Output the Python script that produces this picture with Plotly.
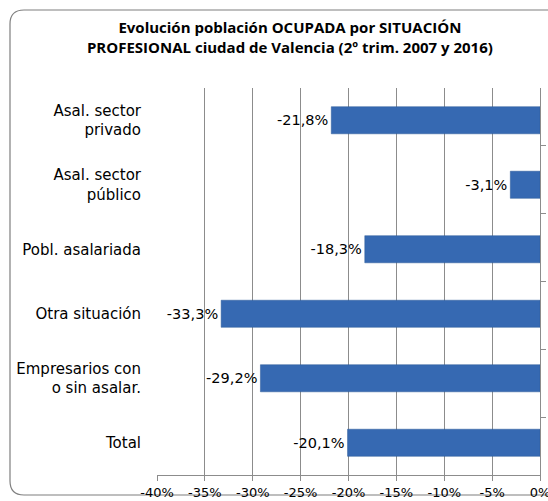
import plotly.graph_objects as go

# Datos (variación % 2º trim. 2007 -> 2016)
categorias = [
    "Asal. sector<br>privado",
    "Asal. sector<br>público",
    "Pobl. asalariada",
    "Otra situación",
    "Empresarios con<br>o sin asalar.",
    "Total",
]
variacion = [-21.8, -3.1, -18.3, -33.3, -29.2, -20.1]
etiquetas = ["-21,8%", "-3,1%", "-18,3%", "-33,3%", "-29,2%", "-20,1%"]
ticks_x = [-40, -35, -30, -25, -20, -15, -10, -5, 0]
ticks_txt = ["-40%", "-35%", "-30%", "-25%", "-20%", "-15%", "-10%", "-5%", "0%"]

AZUL = "#3669b2"
GRIS = "#8c8c8c"
FUENTE = "'DejaVu Sans', sans-serif"

W, H = 548, 501
L, R, T, B = 157, 540, 88, 475

fig = go.Figure()

fig.add_trace(go.Bar(
    x=variacion, y=categorias,
    orientation="h",
    marker=dict(color=AZUL, line=dict(color="#2c5a98", width=0.5)),
    text=etiquetas,
    textposition="outside",
    cliponaxis=False,
    textfont=dict(size=14.5, color="#000000", family=FUENTE),
    hoverinfo="skip",
))

# traza invisible para el eje derecho (marcas en x=0)
fig.add_trace(go.Scatter(
    x=[0] * len(categorias), y=categorias, yaxis="y2",
    mode="markers", marker=dict(opacity=0), hoverinfo="skip", showlegend=False,
))

# marco redondeado del gráfico (coordenadas de papel)
def px(xp):
    return (xp - L) / (R - L)
def py(yp):
    return (B - yp) / (B - T)

x0, x1, y0, y1, r = 10, 570, 10, 495, 14
path = (
    f"M {px(x0 + r)},{py(y0)} L {px(x1)},{py(y0)} "
    f"M {px(x0 + r)},{py(y0)} Q {px(x0)},{py(y0)} {px(x0)},{py(y0 + r)} "
    f"L {px(x0)},{py(y1 - r)} Q {px(x0)},{py(y1)} {px(x0 + r)},{py(y1)} "
    f"L {px(x1)},{py(y1)}"
)
fig.add_shape(type="path", path=path, xref="paper", yref="paper",
              line=dict(color="#7f7f7f", width=1.2), layer="below")

fig.update_layout(
    width=W, height=H,
    paper_bgcolor="white", plot_bgcolor="white",
    margin=dict(l=L, r=W - R, t=T, b=H - B, autoexpand=False),
    showlegend=False,
    bargap=0.58,
    font=dict(family=FUENTE, color="#000000"),
    title=dict(
        text="<b>Evolución población OCUPADA por SITUACIÓN<br>"
             "PROFESIONAL ciudad de Valencia (2º trim. 2007 y 2016)</b>",
        x=0.529, xanchor="center", y=0.934, yanchor="top",
        font=dict(size=15, family="'Open Sans', sans-serif", color="#000000"),
    ),
    xaxis=dict(
        range=[-40, 0], tickvals=ticks_x, ticktext=ticks_txt,
        showgrid=True, gridcolor=GRIS, gridwidth=1,
        showline=True, linecolor=GRIS, linewidth=1,
        ticks="outside", ticklen=5, tickcolor=GRIS,
        ticklabelstandoff=0, ticklabeloverflow="allow",
        zeroline=False, fixedrange=True, automargin=False,
        tickfont=dict(size=13, family=FUENTE),
    ),
    yaxis=dict(
        autorange="reversed", showgrid=False, zeroline=False,
        showline=False, ticks="", ticklabelstandoff=15, automargin=False,
        tickfont=dict(size=15, family=FUENTE),
    ),
    yaxis2=dict(
        overlaying="y", side="right", anchor="x",
        autorange="reversed", showgrid=False, zeroline=False,
        showline=True, linecolor=GRIS, linewidth=1,
        ticks="outside", ticklen=5, tickcolor=GRIS, automargin=False,
        tickson="boundaries", showticklabels=False,
        categoryorder="array", categoryarray=categorias,
    ),
)

# sin el margen por defecto del body la figura ocupa toda la ventana
fig.write_html("out.html",
               config={"displayModeBar": False},
               post_script="document.body.style.margin='0';"
                           "document.body.style.overflow='hidden';")
